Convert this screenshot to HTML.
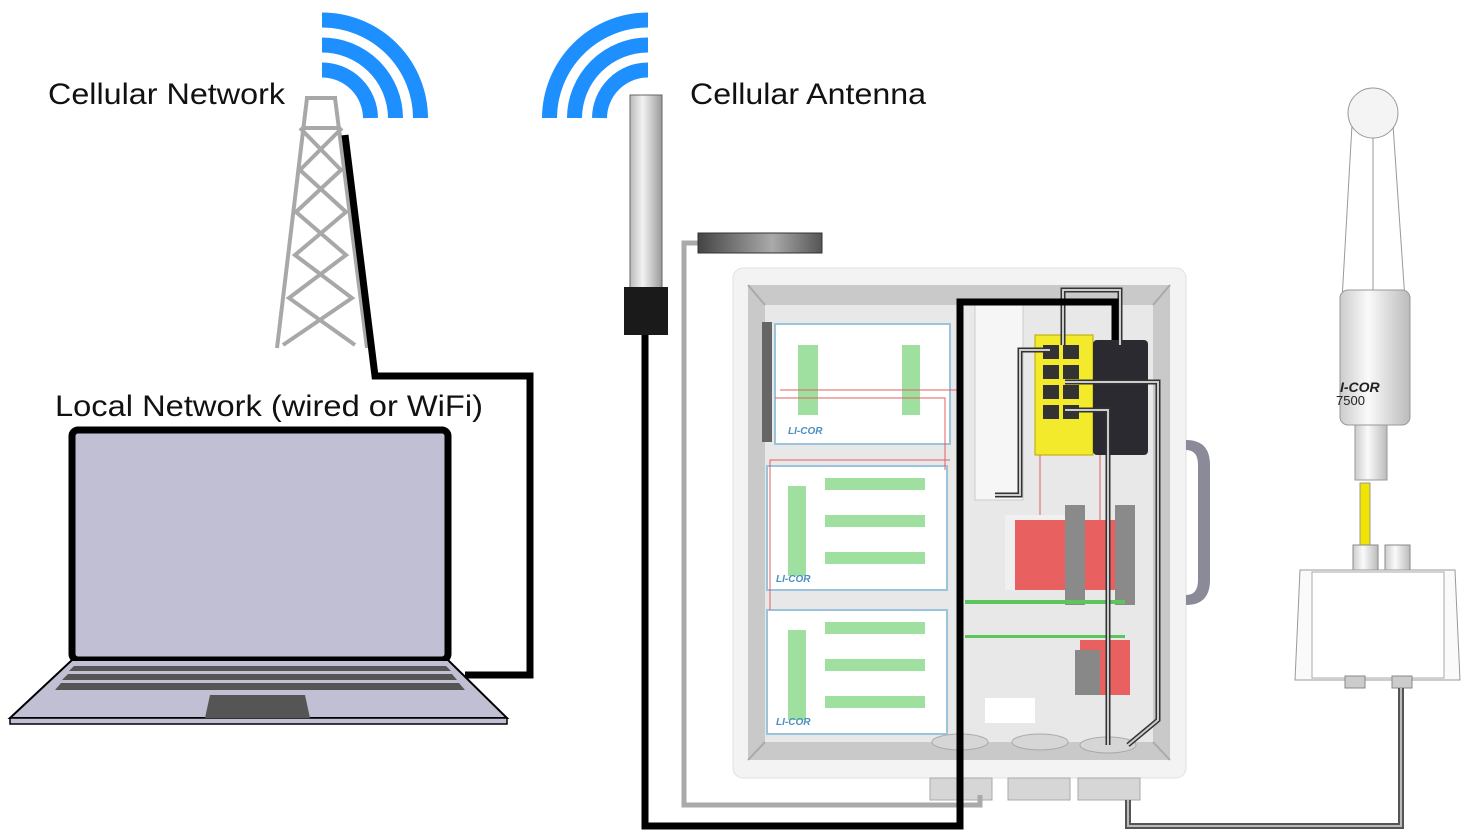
<!DOCTYPE html>
<html><head><meta charset="utf-8"><style>
html,body{margin:0;padding:0;background:#fff;width:1478px;height:836px;overflow:hidden}
svg{display:block}
text{font-family:"Liberation Sans",sans-serif}
</style></head><body>
<svg width="1478" height="836" viewBox="0 0 1478 836">
<defs>
<linearGradient id="ant" x1="0" x2="1"><stop offset="0" stop-color="#bbb"/><stop offset=".4" stop-color="#f2f2f2"/><stop offset="1" stop-color="#999"/></linearGradient>
<linearGradient id="bar" x1="0" x2="1"><stop offset="0" stop-color="#444"/><stop offset=".6" stop-color="#aaa"/><stop offset="1" stop-color="#555"/></linearGradient>
<linearGradient id="cyl" x1="0" x2="1"><stop offset="0" stop-color="#ccc"/><stop offset=".4" stop-color="#fafafa"/><stop offset="1" stop-color="#bbb"/></linearGradient>
</defs>

<!-- texts -->
<text x="48" y="104" font-size="30" fill="#111" textLength="237" lengthAdjust="spacingAndGlyphs">Cellular Network</text>
<text x="690" y="104" font-size="30" fill="#111" textLength="236" lengthAdjust="spacingAndGlyphs">Cellular Antenna</text>
<text x="55" y="416" font-size="30" fill="#111" textLength="428" lengthAdjust="spacingAndGlyphs">Local Network (wired or WiFi)</text>

<!-- wifi arcs -->
<g fill="none" stroke="#1e8fff" stroke-width="15">
<path d="M322,20 A98.5,98.5 0 0 1 420.5,118"/>
<path d="M322,45 A73.5,73.5 0 0 1 395.5,118"/>
<path d="M322,70 A48.5,48.5 0 0 1 370.5,118"/>
<path d="M648,20 A98.5,98.5 0 0 0 549.5,118"/>
<path d="M648,45 A73.5,73.5 0 0 0 574.5,118"/>
<path d="M648,70 A48.5,48.5 0 0 0 599.5,118"/>
</g>

<!-- tower -->
<g stroke="#a8a8a8" stroke-width="4" fill="none">
<path d="M305,98 L337,98 M307,98 L277,348 M335,98 L367,348"/>
<path d="M303,128 L339,128 M300,128 L341,170 L296,212 L346,255 L289,298 L355,345"/>
<path d="M342,128 L300,170 L346,212 L295,255 L352,298 L283,345"/>
</g>
<path d="M345,135 L375,376 L530,376 L530,675 L465,675" fill="none" stroke="#000" stroke-width="7"/>

<!-- laptop -->
<rect x="72" y="430" width="376" height="230" rx="6" fill="#c0bfd3" stroke="#000" stroke-width="7"/>
<path d="M72,660 L448,660 L507,718 L10,718 Z" fill="#c0bfd3" stroke="#000" stroke-width="2"/>
<rect x="10" y="718" width="497" height="6" fill="#c0bfd3" stroke="#000" stroke-width="1.5"/>
<g fill="#555">
<path d="M74,666 L446,666 L451,671 L69,671Z"/>
<path d="M68,674 L452,674 L457,680 L62,680Z"/>
<path d="M61,683 L459,683 L465,690 L55,690Z"/>
</g>
<path d="M210,695 L305,695 L310,718 L205,718Z" fill="#555"/>

<!-- antenna -->
<rect x="630" y="95" width="32" height="195" fill="url(#ant)" stroke="#666"/>
<rect x="624" y="287" width="44" height="48" fill="#1a1a1a"/>

<!-- enclosure -->
<rect x="733" y="268" width="453" height="510" rx="10" fill="#f3f3f3" stroke="#e0e0e0"/>
<path d="M1186,440 q24,0 24,25 v115 q0,25 -24,25 v-10 q12,0 12,-15 v-115 q0,-15 -12,-15z" fill="#8a8a99"/>
<rect x="748" y="285" width="422" height="475" fill="#c9c9c9"/>
<rect x="765" y="305" width="388" height="437" fill="#e8e8e8"/>
<path d="M748,285 L765,305 M1170,285 L1153,305 M748,760 L765,742 M1170,760 L1153,742" stroke="#aaa" stroke-width="2"/>
<!-- modules -->
<rect x="762" y="322" width="10" height="120" fill="#666"/>
<rect x="775" y="324" width="175" height="120" fill="#fff" stroke="#9cc3dc" stroke-width="2"/>
<rect x="767" y="466" width="180" height="124" fill="#fff" stroke="#9cc3dc" stroke-width="2"/>
<rect x="767" y="610" width="180" height="124" fill="#fff" stroke="#9cc3dc" stroke-width="2"/>
<g fill="#9fe0a0">
<rect x="798" y="345" width="20" height="70"/><rect x="902" y="345" width="18" height="70"/>
<rect x="788" y="486" width="18" height="90"/><rect x="825" y="478" width="100" height="12"/><rect x="825" y="515" width="100" height="12"/><rect x="825" y="552" width="100" height="12"/>
<rect x="788" y="630" width="18" height="90"/><rect x="825" y="622" width="100" height="12"/><rect x="825" y="659" width="100" height="12"/><rect x="825" y="696" width="100" height="12"/>
<rect x="988" y="315" width="14" height="180"/>
</g>
<text x="788" y="434" font-size="10" font-style="italic" font-weight="bold" fill="#4a90c0">LI-COR</text>
<text x="776" y="582" font-size="10" font-style="italic" font-weight="bold" fill="#4a90c0">LI-COR</text>
<text x="776" y="725" font-size="10" font-style="italic" font-weight="bold" fill="#4a90c0">LI-COR</text>
<rect x="975" y="305" width="48" height="195" fill="#f6f6f6" stroke="#ccc"/>
<!-- switch -->
<rect x="1035" y="335" width="58" height="120" fill="#f2ea2a" stroke="#bba800"/>
<g fill="#333"><rect x="1043" y="345" width="16" height="14"/><rect x="1063" y="345" width="16" height="14"/><rect x="1043" y="365" width="16" height="14"/><rect x="1063" y="365" width="16" height="14"/><rect x="1043" y="385" width="16" height="14"/><rect x="1063" y="385" width="16" height="14"/><rect x="1043" y="405" width="16" height="14"/><rect x="1063" y="405" width="16" height="14"/></g>
<rect x="1093" y="340" width="55" height="115" rx="4" fill="#2a2a30"/>
<!-- terminal blocks -->
<rect x="1005" y="515" width="60" height="75" fill="#f0f0f0"/>
<rect x="1015" y="520" width="50" height="70" fill="#e86060"/>
<rect x="1065" y="505" width="20" height="100" fill="#8a8a8a"/>
<rect x="1085" y="520" width="45" height="70" fill="#e86060"/>
<rect x="1115" y="505" width="20" height="100" fill="#8a8a8a"/>
<rect x="1080" y="640" width="50" height="55" fill="#e86060"/>
<rect x="1075" y="650" width="25" height="45" fill="#888"/>
<rect x="985" y="698" width="50" height="25" fill="#fff"/>
<rect x="965" y="600" width="160" height="4" fill="#5cc65c"/>
<rect x="965" y="635" width="160" height="3" fill="#5cc65c"/>
<g stroke="#e06060" stroke-width="1" fill="none">
<path d="M780,390 H960 M775,398 H945 V470 M1040,455 V515 M1100,455 V520 M770,610 V460 H950"/>
</g>
<!-- glands -->
<g fill="#d6d6d6" stroke="#aaa">
<ellipse cx="960" cy="742" rx="28" ry="8"/><ellipse cx="1040" cy="742" rx="28" ry="8"/><ellipse cx="1108" cy="745" rx="28" ry="8"/>
<rect x="930" y="778" width="62" height="22"/><rect x="1008" y="778" width="62" height="22"/><rect x="1078" y="778" width="62" height="22"/>
</g>

<!-- gray cables -->
<path d="M698,243 H684 V805 H980 V795" fill="none" stroke="#aaa" stroke-width="5"/>
<rect x="698" y="233" width="124" height="20" fill="url(#bar)" stroke="#333"/>
<g fill="none" stroke="#333" stroke-width="5"><path d="M1063,345 V290 H1120 V345"/><path d="M1050,350 H1020 V495 H995"/><path d="M1065,382 H1158 V720 L1128,745"/><path d="M1065,410 H1108 V745"/></g>
<g fill="none" stroke="#ccc" stroke-width="2"><path d="M1063,345 V290 H1120 V345"/><path d="M1050,350 H1020 V495 H995"/><path d="M1065,382 H1158 V720 L1128,745"/><path d="M1065,410 H1108 V745"/></g>

<!-- black cable from antenna -->
<path d="M645,335 V826 H960 V302 H1115 V340" fill="none" stroke="#000" stroke-width="7"/>

<!-- sensor -->
<g stroke="#999" fill="#f4f4f4">
<line x1="1352" y1="125" x2="1342" y2="300"/><line x1="1393" y1="125" x2="1405" y2="300"/><line x1="1373" y1="135" x2="1373" y2="300"/>
<circle cx="1373" cy="113" r="25"/>
<rect x="1340" y="290" width="70" height="135" rx="8" fill="url(#cyl)"/>
<rect x="1355" y="425" width="32" height="55" fill="url(#cyl)"/>
</g>
<text x="1340" y="392" font-size="14" font-style="italic" font-weight="bold" fill="#222">I-COR</text>
<text x="1336" y="405" font-size="13" fill="#222">7500</text>
<rect x="1360" y="483" width="10" height="62" fill="#f0e400" stroke="#999"/>
<rect x="1353" y="545" width="25" height="25" fill="url(#cyl)" stroke="#888"/>
<rect x="1385" y="545" width="25" height="25" fill="url(#cyl)" stroke="#888"/>
<path d="M1300,570 H1455 L1460,680 H1295 Z" fill="#fafafa" stroke="#999"/>
<rect x="1312" y="572" width="132" height="106" fill="#fff" stroke="#aaa"/>
<rect x="1345" y="676" width="20" height="12" fill="#ccc" stroke="#888"/>
<rect x="1392" y="676" width="20" height="12" fill="#ccc" stroke="#888"/>
<path d="M1401,688 V826 H1128 V800" fill="none" stroke="#555" stroke-width="6"/>
<path d="M1401,688 V826 H1128 V800" fill="none" stroke="#bbb" stroke-width="2"/>
</svg>
</body></html>
